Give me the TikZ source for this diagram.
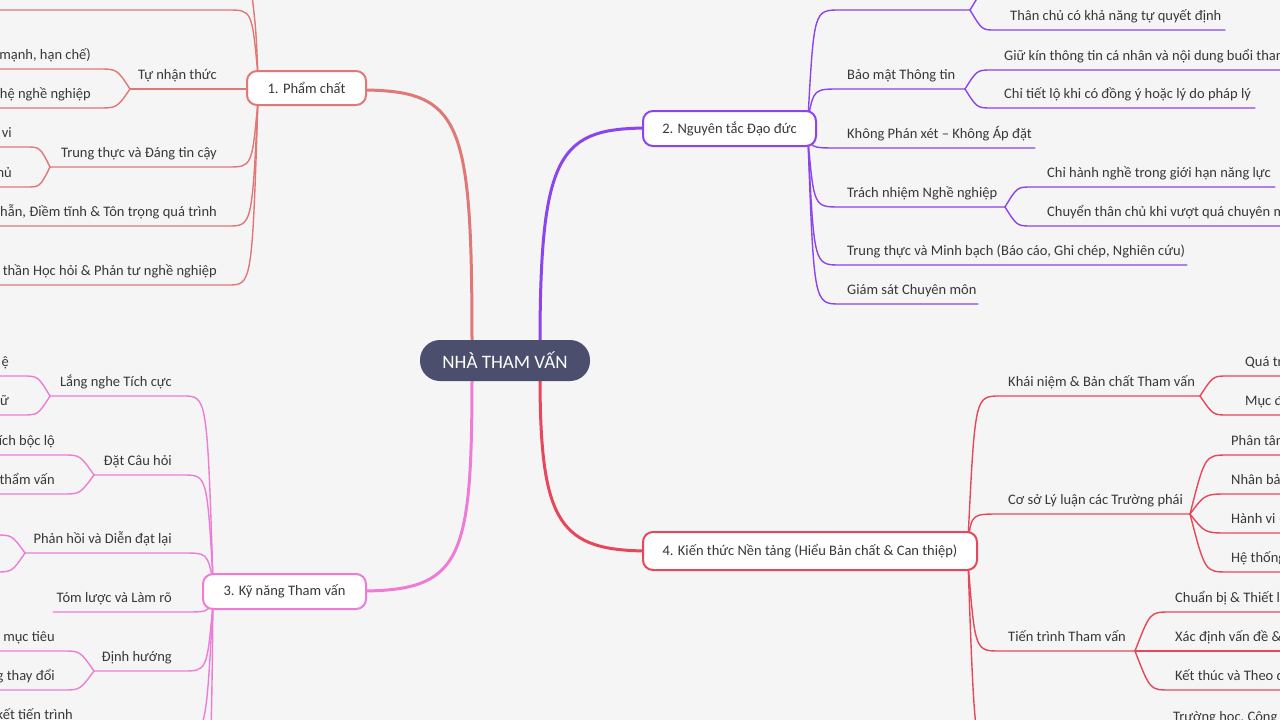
\documentclass[tikz,border=0pt]{standalone}
\usepackage{fontspec}
\setmainfont{Carlito}
\definecolor{bg}{HTML}{F5F5F5}
\definecolor{cA}{HTML}{E07878}
\definecolor{cB}{HTML}{8B44EE}
\definecolor{cC}{HTML}{EE7CD6}
\definecolor{cD}{HTML}{E6475B}
\definecolor{hub}{HTML}{4B4F6D}
\definecolor{ink}{HTML}{383838}
\begin{document}
\begin{tikzpicture}[x=1pt,y=-1pt,
  lbl/.style={font=\fontsize{14.5}{16}\selectfont, text=ink, inner sep=0pt},
  lblL/.style={lbl, anchor=base east},
  lblR/.style={lbl, anchor=base west},
  sub/.style={line width=1.4pt, line cap=round},
  mainbr/.style={line width=3pt},
  topic/.style={draw, line width=2pt, fill=white, rounded corners=10pt, font=\fontsize{14.5}{16}\selectfont, text=ink, inner sep=0pt, anchor=center}
]
\useasboundingbox (0,0) rectangle (1280,720);
\fill[bg] (0,0) rectangle (1280,720);
\clip (0,0) rectangle (1280,720);

% ---------- main branches ----------
\draw[mainbr,cA] (472,345) .. controls (472,120) and (462,90) .. (360,90);
\draw[mainbr,cB] (540,345) .. controls (540,150) and (560,128) .. (650,128);
\draw[mainbr,cC] (472,376) .. controls (472,560) and (462,591) .. (360,591);
\draw[mainbr,cD] (540,376) .. controls (540,525) and (560,551) .. (650,551);

% ---------- branch 1 : Pham chat ----------
\begin{scope}[cA]
\draw[sub] (258,76) .. controls (256,30) .. (252,-5);
\draw[sub] (258,76) .. controls (252,10) .. (228,10) -- (-5,10);
\draw[sub] (260,89) -- (130,89);
\draw[sub] (130,89) .. controls (117,69) .. (98,69) -- (-5,69);
\draw[sub] (130,89) .. controls (117,108) .. (98,108) -- (-5,108);
\draw[sub] (258,100) .. controls (252,167) .. (228,167) -- (50,167);
\draw[sub] (50,167) .. controls (40,147) .. (26,147) -- (-5,147);
\draw[sub] (50,167) .. controls (40,187) .. (26,187) -- (-5,187);
\draw[sub] (258,100) .. controls (252,226) .. (228,226) -- (-5,226);
\draw[sub] (258,100) .. controls (252,285) .. (228,285) -- (-5,285);
\end{scope}
\node[lblL] (t1a) at (217,79) {Tự nhận thức};
\node[lblL] (t1a1) at (91,59) {điểm mạnh, hạn chế)};
\node[lblL] (t1a2) at (91,98) {quan hệ nghề nghiệp};
\node[lblL] (t1b) at (217,157) {Trung thực và Đáng tin cậy};
\node[lblL] (t1b1) at (12,137) {vi};
\node[lblL] (t1b2) at (12,177) {hủ};
\node[lblL] (t1c) at (217,216) {nhẫn, Điềm tĩnh \& Tôn trọng quá trình};
\node[lblL] (t1d) at (217,275) {thần Học hỏi \& Phản tư nghề nghiệp};

% ---------- branch 2 : Nguyen tac Dao duc ----------
\begin{scope}[cB]
\draw[sub] (808,118) .. controls (814,10) .. (840,10) -- (970,10);
\draw[sub] (970,10) .. controls (982,-10) .. (995,-10);
\draw[sub] (970,10) .. controls (982,30) .. (995,30) -- (1225,30);
\draw[sub] (808,118) .. controls (814,89) .. (840,89) -- (965,89);
\draw[sub] (965,89) .. controls (977,70) .. (992,70) -- (1285,70);
\draw[sub] (965,89) .. controls (977,108) .. (992,108) -- (1255,108);
\draw[sub] (808,140) .. controls (814,148) .. (840,148) -- (1035,148);
\draw[sub] (808,140) .. controls (814,207) .. (840,207) -- (1005,207);
\draw[sub] (1005,207) .. controls (1017,187) .. (1032,187) -- (1275,187);
\draw[sub] (1005,207) .. controls (1017,226) .. (1032,226) -- (1285,226);
\draw[sub] (808,140) .. controls (814,265) .. (840,265) -- (1187,265);
\draw[sub] (808,140) .. controls (814,304) .. (840,304) -- (978,304);
\end{scope}
\node[lblR] (t2a1) at (1010,20) {Thân chủ có khả năng tự quyết định};
\node[lblR] (t2b) at (847,79) {Bảo mật Thông tin};
\node[lblR] (t2b1) at (1004,60) {Giữ kín thông tin cá nhân và nội dung buổi tham vấn};
\node[lblR] (t2b2) at (1004,98) {Chỉ tiết lộ khi có đồng ý hoặc lý do pháp lý};
\node[lblR] (t2c) at (847,138) {Không Phán xét – Không Áp đặt};
\node[lblR] (t2d) at (847,197) {Trách nhiệm Nghề nghiệp};
\node[lblR] (t2d1) at (1047,177) {Chỉ hành nghề trong giới hạn năng lực};
\node[lblR] (t2d2) at (1047,216) {Chuyển thân chủ khi vượt quá chuyên môn};
\node[lblR] (t2e) at (847,255) {Trung thực và Minh bạch (Báo cáo, Ghi chép, Nghiên cứu)};
\node[lblR] (t2f) at (847,294) {Giám sát Chuyên môn};

% ---------- branch 3 : Ky nang Tham van ----------
\begin{scope}[cC]
\draw[sub] (213,580) .. controls (207,396) .. (183,396) -- (50,396);
\draw[sub] (50,396) .. controls (38,376) .. (22,376) -- (-5,376);
\draw[sub] (50,396) .. controls (38,415) .. (22,415) -- (-5,415);
\draw[sub] (213,580) .. controls (207,475) .. (183,475) -- (94,475);
\draw[sub] (94,475) .. controls (80,455) .. (63,455) -- (-5,455);
\draw[sub] (94,475) .. controls (80,494) .. (63,494) -- (-5,494);
\draw[sub] (213,580) .. controls (207,553) .. (183,553) -- (25,553);
\draw[sub] (25,553) .. controls (12,535) .. (-5,535);
\draw[sub] (25,553) .. controls (12,572) .. (-5,572);
\draw[sub] (213,603) .. controls (207,612) .. (183,612) -- (53,612);
\draw[sub] (213,603) .. controls (207,671) .. (183,671) -- (94,671);
\draw[sub] (94,671) .. controls (80,651) .. (63,651) -- (-5,651);
\draw[sub] (94,671) .. controls (80,690) .. (63,690) -- (-5,690);
\draw[sub] (213,603) .. controls (206,735) .. (180,735);
\draw[sub] (213,603) .. controls (211,780) .. (195,790);
\end{scope}
\node[lblL] (t3a) at (172,386) {Lắng nghe Tích cực};
\node[lblL] (t3a1) at (9,366) {ệ};
\node[lblL] (t3a2) at (9,405) {ữ};
\node[lblL] (t3b) at (172,465) {Đặt Câu hỏi};
\node[lblL] (t3b1) at (55,445) {khích bộc lộ};
\node[lblL] (t3b2) at (55,484) {thẩm vấn};
\node[lblL] (t3c) at (172,543) {Phản hồi và Diễn đạt lại};
\node[lblL] (t3d) at (172,602) {Tóm lược và Làm rõ};
\node[lblL] (t3e) at (172,661) {Định hướng};
\node[lblL] (t3e1) at (55,641) {mục tiêu};
\node[lblL] (t3e2) at (55,680) {ng thay đổi};
\node[lblL] (t3f) at (73,719) {kết tiến trình};

% ---------- branch 4 : Kien thuc Nen tang ----------
\begin{scope}[cD]
\draw[sub] (968,540) .. controls (975,396) .. (1000,396) -- (1200,396);
\draw[sub] (1200,396) .. controls (1213,376) .. (1228,376) -- (1285,376);
\draw[sub] (1200,396) .. controls (1213,415) .. (1228,415) -- (1285,415);
\draw[sub] (968,540) .. controls (972,514) .. (1000,514) -- (1190,514);
\draw[sub] (1190,514) .. controls (1205,455) .. (1228,455) -- (1285,455);
\draw[sub] (1190,514) .. controls (1205,494) .. (1228,494) -- (1285,494);
\draw[sub] (1190,514) .. controls (1205,533) .. (1228,533) -- (1285,533);
\draw[sub] (1190,514) .. controls (1205,572) .. (1228,572) -- (1285,572);
\draw[sub] (968,562) .. controls (975,651) .. (1000,651) -- (1135,651);
\draw[sub] (1135,651) .. controls (1150,612) .. (1170,612) -- (1285,612);
\draw[sub] (1135,651) -- (1285,651);
\draw[sub] (1135,651) .. controls (1150,690) .. (1170,690) -- (1285,690);
\draw[sub] (968,562) .. controls (975,760) .. (1000,760);
\end{scope}
\node[lblR] (t4a) at (1008,386) {Khái niệm \& Bản chất Tham vấn};
\node[lblR] (t4a1) at (1245,366) {Quá trình};
\node[lblR] (t4a2) at (1245,405) {Mục đích};
\node[lblR] (t4b) at (1008,504) {Cơ sở Lý luận các Trường phái};
\node[lblR] (t4b1) at (1231,445) {Phân tâm};
\node[lblR] (t4b2) at (1231,484) {Nhân bản};
\node[lblR] (t4b3) at (1231,523) {Hành vi –};
\node[lblR] (t4b4) at (1231,562) {Hệ thống};
\node[lblR] (t4c) at (1008,641) {Tiến trình Tham vấn};
\node[lblR] (t4c1) at (1175,602) {Chuẩn bị \& Thiết lập};
\node[lblR] (t4c2) at (1175,641) {Xác định vấn đề \&};
\node[lblR] (t4c3) at (1175,680) {Kết thúc và Theo dõi};
\node[lblR] (t4d1) at (1173,721) {Trường học, Công};

% ---------- topic nodes ----------
\node[topic, draw=cA, minimum width=119pt, minimum height=34pt] (n1) at (306.5,88) {1. Phẩm chất};
\node[topic, draw=cB, minimum width=173pt, minimum height=35pt] (n2) at (729.5,128.5) {2. Nguyên tắc Đạo đức};
\node[topic, draw=cC, minimum width=163pt, minimum height=35pt] (n3) at (284.5,591.5) {3. Kỹ năng Tham vấn};
\node[topic, draw=cD, minimum width=334pt, minimum height=38pt] (n4) at (810,551) {4. Kiến thức Nền tảng (Hiểu Bản chất \& Can thiệp)};

% ---------- central node ----------
\node[fill=hub, rounded corners=20pt, minimum width=170pt, minimum height=41pt, inner sep=0pt,
      text=white, font=\fontsize{19}{22}\selectfont] (hubnode) at (505,360.5) {NHÀ THAM VẤN};
\end{tikzpicture}
\end{document}
